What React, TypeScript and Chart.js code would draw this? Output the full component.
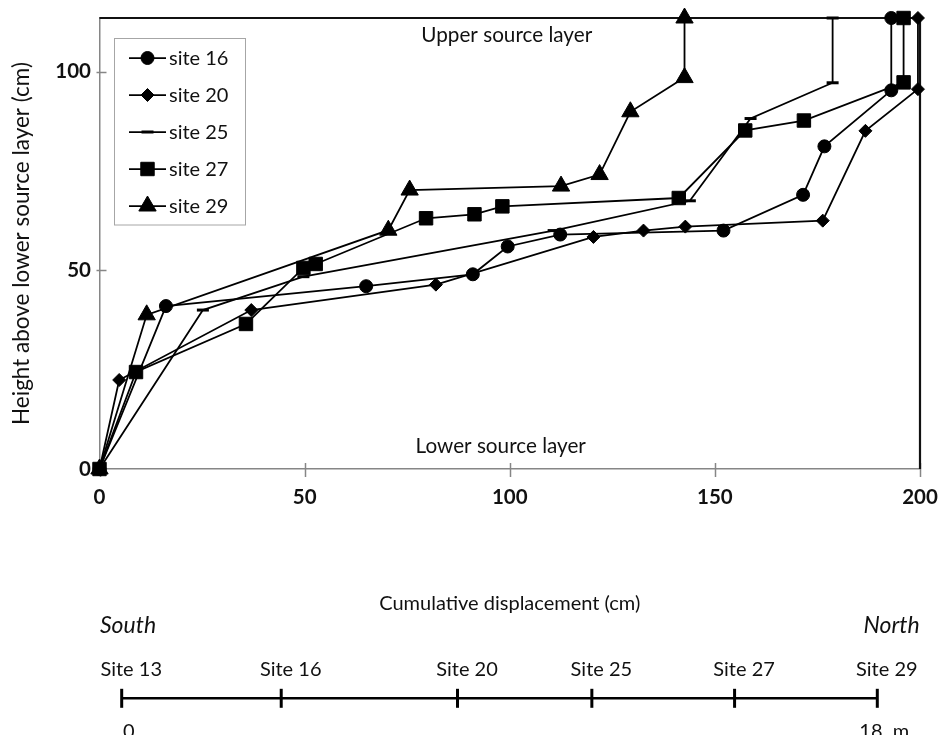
import React, { useEffect, useRef } from "react";
import { Chart, registerables } from "chart.js";
import { drawPoint } from "chart.js/helpers";

Chart.register(...registerables);

const FONT = "Lato, 'Open Sans', sans-serif";

// ---- data: cumulative displacement (cm) vs height above lower source layer (cm)
const site16: [number, number][] = [
  [0, 0], [16.2, 41], [65, 46], [91, 49], [99.5, 56], [112.3, 59], [152.1, 60],
  [171.5, 69], [176.7, 81.2], [193, 95.3], [193, 113.5],
];
const site20: [number, number][] = [
  [0, 0], [4.8, 22.4], [37, 40], [82, 46.4], [120.4, 58.4], [132.6, 60], [142.8, 61],
  [176.3, 62.5], [186.7, 85.1], [199.5, 95.6], [199.5, 113.5],
];
const site25: [number, number][] = [
  [0, 0], [25.2, 40], [49.7, 48.4], [110.7, 60], [143.9, 67.5], [158.7, 88.2],
  [178.7, 97.2], [178.7, 113.5],
];
const site27: [number, number][] = [
  [0, 0], [8.9, 24.4], [35.7, 36.5], [49.7, 50.6], [52.7, 51.6], [79.6, 63.1],
  [91.4, 64.1], [98.2, 66.1], [141.2, 68.2], [157.4, 85.2], [171.7, 87.7],
  [196, 97.3], [196, 113.5],
];
const site29: [number, number][] = [
  [0, 0], [11.5, 38.8], [70.4, 60.1], [75.6, 70.2], [112.5, 71.2], [121.9, 74.1],
  [129.4, 89.9], [142.6, 98.5], [142.6, 113.5],
];

const seriesLabels = ["site 16", "site 20", "site 25", "site 27", "site 29"];
const seriesData = [site16, site20, site25, site27, site29];

const xTicks = [0, 50, 100, 150, 200];
const yTicks = [0, 50, 100];
const X_MIN = 0;
const X_MAX = 200;
const Y_MIN = 0;
const Y_MAX = 113.5;

const xTitle = "Cumulative displacement (cm)";
const yTitle = "Height above lower source layer (cm)";
const upperLabel = "Upper source layer";
const lowerLabel = "Lower source layer";

// ---- site location scale (m, south to north)
const scaleSites = ["Site 13", "Site 16", "Site 20", "Site 25", "Site 27", "Site 29"];
const scalePositions = [0, 3.8, 8.0, 11.2, 14.6, 18];
const scaleEndTicks = [0, 18];
const scaleEndLabels = ["0", "18  m"];
const southLabel = "South";
const northLabel = "North";

// ---- styles
const pointStyles = ["circle", "rectRot", "line", "rect", "triangle"];
const pointRadii = [6.5, 6.5, 6, 9.5, 10];
const pointBorderWidths = [1, 1, 3, 1, 1];

const framePlugin = {
  id: "frame",
  beforeDatasetsDraw(chart: any) {
    const { ctx, chartArea } = chart;
    const xs = chart.scales.x;
    const ys = chart.scales.y;
    ctx.save();
    // tick marks crossing axes
    ctx.strokeStyle = "#868686";
    ctx.lineWidth = 1.5;
    xTicks.forEach((v) => {
      const px = Math.round(xs.getPixelForValue(v)) + 0.5;
      ctx.beginPath();
      ctx.moveTo(px, chartArea.bottom - 6);
      ctx.lineTo(px, chartArea.bottom + 8);
      ctx.stroke();
    });
    yTicks.forEach((v) => {
      const py = Math.round(ys.getPixelForValue(v)) + 0.5;
      ctx.beginPath();
      ctx.moveTo(chartArea.left - 3, py);
      ctx.lineTo(chartArea.left + 7, py);
      ctx.stroke();
    });
    // top and right frame
    ctx.strokeStyle = "#111";
    ctx.lineWidth = 2.2;
    ctx.beginPath();
    ctx.moveTo(chartArea.left, chartArea.top);
    ctx.lineTo(chartArea.right, chartArea.top);
    ctx.lineTo(chartArea.right, chartArea.bottom);
    ctx.stroke();
    // layer labels
    ctx.fillStyle = "#111";
    ctx.font = `20.7px ${FONT}`;
    ctx.textAlign = "center";
    ctx.textBaseline = "alphabetic";
    ctx.fillText(upperLabel, xs.getPixelForValue(100) - 3, chartArea.top + 23.5);
    ctx.fillText(lowerLabel, xs.getPixelForValue(100) - 9, chartArea.bottom - 16.5);
    ctx.restore();
  },
};

const legendPlugin = {
  id: "boxLegend",
  afterDatasetsDraw(chart: any) {
    const { ctx, chartArea } = chart;
    const left = chartArea.left + 14.5;
    const top = chartArea.top + 20;
    const w = 131;
    const h = 186.5;
    ctx.save();
    ctx.fillStyle = "#fff";
    ctx.fillRect(left, top, w, h);
    ctx.strokeStyle = "#a6a6a6";
    ctx.lineWidth = 1;
    ctx.strokeRect(Math.round(left) + 0.5, Math.round(top) + 0.5, w, h);
    chart.data.datasets.forEach((ds: any, i: number) => {
      const y = top + 20 + i * 37;
      const x0 = left + 15;
      const x1 = left + 52;
      ctx.strokeStyle = "#000";
      ctx.lineWidth = 1.75;
      ctx.beginPath();
      ctx.moveTo(x0, y);
      ctx.lineTo(x1, y);
      ctx.stroke();
      ctx.fillStyle = "#000";
      ctx.strokeStyle = "#000";
      ctx.lineWidth = pointBorderWidths[i];
      drawPoint(ctx, { pointStyle: pointStyles[i], radius: pointRadii[i], rotation: 0, borderWidth: pointBorderWidths[i] } as any, (x0 + x1) / 2, y);
      ctx.fillStyle = "#111";
      ctx.font = `20px ${FONT}`;
      ctx.textAlign = "left";
      ctx.textBaseline = "middle";
      ctx.fillText(ds.label, x1 + 3, y + 1);
    });
    ctx.restore();
  },
};

const southNorthPlugin = {
  id: "southNorth",
  afterDraw(chart: any) {
    const { ctx, chartArea } = chart;
    ctx.save();
    ctx.fillStyle = "#111";
    ctx.font = `italic 23px ${FONT}`;
    ctx.textBaseline = "alphabetic";
    ctx.textAlign = "left";
    ctx.fillText(southLabel, chartArea.left - 21.7, 22.7);
    ctx.textAlign = "right";
    ctx.fillText(northLabel, chartArea.right + 42.4, 22.7);
    ctx.restore();
  },
};

const zeroPad = (s: any) => {
  s.paddingLeft = 0;
  s.paddingRight = 0;
  s.paddingTop = 0;
  s.paddingBottom = 0;
};

export default function App() {
  const mainRef = useRef<HTMLCanvasElement>(null);
  const scaleRef = useRef<HTMLCanvasElement>(null);

  useEffect(() => {
    const datasets = seriesData.map((d, i) => ({
      label: seriesLabels[i],
      data: d.map(([x, y]) => ({ x, y })),
      showLine: true,
      tension: 0,
      borderColor: "#000",
      backgroundColor: "#000",
      borderWidth: 1.8,
      pointStyle: pointStyles[i],
      pointRadius: pointRadii[i],
      pointHoverRadius: pointRadii[i],
      pointBorderWidth: pointBorderWidths[i],
      pointBackgroundColor: "#000",
      pointBorderColor: "#000",
      clip: false,
    }));

    const main = new Chart(mainRef.current!, {
      type: "scatter",
      data: { datasets } as any,
      options: {
        animation: false,
        responsive: false,
        devicePixelRatio: 1,
        events: [],
        layout: { padding: { top: 18, right: 18, left: 0, bottom: 0 } },
        plugins: { legend: { display: false }, tooltip: { enabled: false } },
        scales: {
          x: {
            type: "linear",
            min: X_MIN,
            max: X_MAX,
            afterBuildTicks: (s: any) => {
              s.ticks = xTicks.map((v) => ({ value: v }));
            },
            afterFit: (s: any) => {
              s.height = 156;
              zeroPad(s);
            },
            grid: { display: false, drawTicks: false },
            border: { display: true, color: "#868686", width: 1.5 },
            ticks: {
              color: "#111",
              font: { family: FONT, size: 20.5, weight: "bold" },
              padding: 16.5,
              maxRotation: 0,
              autoSkip: false,
            },
            title: {
              display: true,
              text: xTitle,
              color: "#111",
              font: { family: FONT, size: 20 },
              padding: { top: 0, bottom: 9 },
            },
          },
          y: {
            type: "linear",
            min: Y_MIN,
            max: Y_MAX,
            afterBuildTicks: (s: any) => {
              s.ticks = yTicks.map((v) => ({ value: v }));
            },
            afterFit: (s: any) => {
              s.width = 99.5;
              zeroPad(s);
            },
            grid: { display: false, drawTicks: false },
            border: { display: true, color: "#868686", width: 1.5 },
            ticks: {
              color: "#111",
              font: { family: FONT, size: 20.5, weight: "bold" },
              padding: 8.5,
            },
            title: {
              display: true,
              text: yTitle,
              color: "#111",
              font: { family: FONT, size: 22.5 },
              padding: { top: 8.5, bottom: 0 },
            },
          },
        },
      } as any,
      plugins: [framePlugin, legendPlugin],
    });

    const bar = new Chart(scaleRef.current!, {
      type: "scatter",
      data: {
        datasets: [
          {
            data: scalePositions.map((x) => ({ x, y: 0 })),
            showLine: true,
            borderColor: "#000",
            backgroundColor: "#000",
            borderWidth: 2.5,
            pointStyle: "line",
            pointRotation: 90,
            pointRadius: 9.5,
            pointHoverRadius: 9.5,
            pointBorderWidth: 3,
            pointBorderColor: "#000",
            clip: false,
          },
        ],
      } as any,
      options: {
        animation: false,
        responsive: false,
        devicePixelRatio: 1,
        events: [],
        layout: { padding: { top: 0, right: 60.7, left: 121.7, bottom: 0 } },
        plugins: { legend: { display: false }, tooltip: { enabled: false } },
        scales: {
          x: {
            type: "linear",
            position: "top",
            min: 0,
            max: 18,
            afterBuildTicks: (s: any) => {
              s.ticks = scalePositions.map((v) => ({ value: v }));
            },
            afterFit: (s: any) => {
              s.height = 78.3;
              zeroPad(s);
            },
            grid: { display: false, drawTicks: false },
            border: { display: false },
            ticks: {
              callback: (_v: any, i: number) => scaleSites[i],
              color: "#111",
              font: { family: FONT, size: 20 },
              padding: 7,
              labelOffset: 9.5,
              maxRotation: 0,
              autoSkip: false,
            },
          },
          x2: {
            type: "linear",
            position: "bottom",
            min: 0,
            max: 18,
            afterBuildTicks: (s: any) => {
              s.ticks = scaleEndTicks.map((v) => ({ value: v }));
            },
            afterFit: (s: any) => {
              s.height = 26.7;
              zeroPad(s);
            },
            grid: { display: false, drawTicks: false },
            border: { display: false },
            ticks: {
              callback: (_v: any, i: number) => scaleEndLabels[i],
              color: "#111",
              font: { family: FONT, size: 20 },
              padding: 11,
              labelOffset: 7,
              maxRotation: 0,
              autoSkip: false,
            },
          },
          y: { display: false, min: -1, max: 1 },
        },
      } as any,
      plugins: [southNorthPlugin],
    });

    return () => {
      main.destroy();
      bar.destroy();
    };
  }, []);

  return (
    <div
      style={{
        position: "fixed",
        left: 0,
        top: 0,
        width: 938,
        height: 735,
        overflow: "hidden",
        background: "#fff",
      }}
    >
      <canvas
        ref={mainRef}
        width={938}
        height={625}
        style={{ position: "absolute", left: 0, top: 0, width: 938, height: 625 }}
      />
      <canvas
        ref={scaleRef}
        width={938}
        height={125}
        style={{ position: "absolute", left: 0, top: 610, width: 938, height: 125 }}
      />
    </div>
  );
}
